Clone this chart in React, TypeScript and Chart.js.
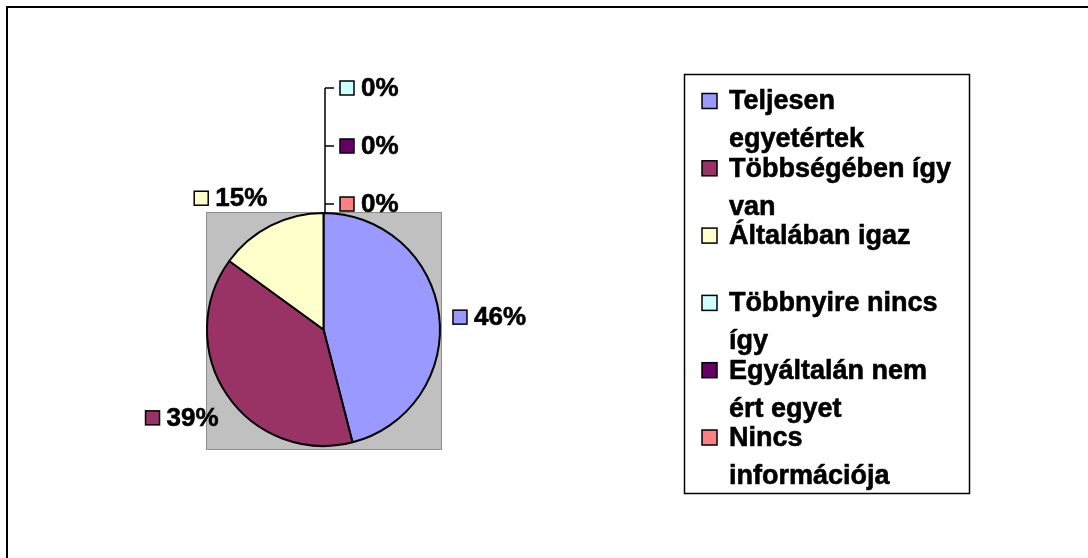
import React, { useEffect, useRef } from "react";
import { Chart, registerables } from "chart.js";

Chart.register(...registerables);

// ---- data ----
const categories: string[][] = [
  ["Teljesen", "egyetértek"],
  ["Többségében így", "van"],
  ["Általában igaz"],
  ["Többnyire nincs", "így"],
  ["Egyáltalán nem", "ért egyet"],
  ["Nincs", "információja"],
];
const percents: number[] = [46, 39, 15, 0, 0, 0];
const sliceColors: string[] = ["#9999FF", "#993366", "#FFFFCC", "#CCFFFF", "#660066", "#FF8080"];

const W = 1088;
const H = 558;
const LABEL_FONT = "bold 26px 'Liberation Sans', Arial, sans-serif";
const LEGEND_FONT = "bold 27px 'Liberation Sans', Arial, sans-serif";

function keyBox(ctx: CanvasRenderingContext2D, x: number, y: number, s: number, color: string) {
  ctx.fillStyle = color;
  ctx.fillRect(x, y, s, s);
  ctx.lineWidth = 1.5;
  ctx.strokeStyle = "#000";
  ctx.strokeRect(x, y, s, s);
}

function boldText(ctx: CanvasRenderingContext2D, t: string, x: number, y: number) {
  ctx.fillStyle = "#000";
  ctx.fillText(t, x, y);
  ctx.lineWidth = 0.6;
  ctx.strokeStyle = "#000";
  ctx.strokeText(t, x, y);
}

const decorPlugin = {
  id: "decor",
  beforeDraw(chart: any) {
    const ctx: CanvasRenderingContext2D = chart.ctx;
    ctx.save();
    ctx.fillStyle = "#fff";
    ctx.fillRect(0, 0, W, H);
    ctx.lineWidth = 2;
    ctx.strokeStyle = "#000";
    ctx.strokeRect(7, 7, W + 20, H + 20);
    ctx.restore();
  },
  beforeDatasetsDraw(chart: any) {
    const ctx: CanvasRenderingContext2D = chart.ctx;
    const a = chart.chartArea;
    ctx.save();
    ctx.fillStyle = "#C0C0C0";
    ctx.fillRect(a.left, a.top, a.right - a.left, a.bottom - a.top + 2);
    ctx.lineWidth = 1;
    ctx.strokeStyle = "#8C8C8C";
    ctx.strokeRect(a.left + 0.5, a.top + 0.5, a.right - a.left, a.bottom - a.top + 2);
    ctx.restore();
  },
  afterDatasetsDraw(chart: any) {
    const ctx: CanvasRenderingContext2D = chart.ctx;
    const meta = chart.getDatasetMeta(0);
    const data: number[] = chart.data.datasets[0].data;
    const total = data.reduce((s, v) => s + v, 0);
    ctx.save();
    ctx.font = LABEL_FONT;
    ctx.textBaseline = "middle";
    ctx.textAlign = "left";
    const keyS = 14;
    const gap = 7;
    const boxH = 30;
    const zeroIdx: number[] = [];
    data.forEach((v, i) => {
      const arc = meta.data[i] as any;
      const text = Math.round((v / total) * 100) + "%";
      if (v === 0) {
        zeroIdx.push(i);
        return;
      }
      const mid = (arc.startAngle + arc.endAngle) / 2;
      const r = arc.outerRadius + 14;
      const ax = arc.x + Math.cos(mid) * r;
      const ay = arc.y + Math.sin(mid) * r;
      const tw = ctx.measureText(text).width;
      const w = keyS + gap + tw;
      const c = Math.cos(mid);
      const s = Math.sin(mid);
      const left = c >= 0 ? ax : ax - w + 3;
      const cy = Math.abs(s) > 0.4 ? ay + Math.sign(s) * boxH / 2 : ay + 4;
      keyBox(ctx, left, cy - keyS / 2, keyS, sliceColors[i]);
      boldText(ctx, text, left + keyS + gap, cy + 1);
    });
    // stacked zero-value labels with leader line
    if (zeroIdx.length) {
      const arc = meta.data[zeroIdx[0]] as any;
      const topY = arc.y - arc.outerRadius;
      const lx = arc.x + 1.5;
      const order = zeroIdx.slice().reverse();
      const ys = order.map((_, k) => topY - 9 - k * 58);
      ctx.lineWidth = 1.5;
      ctx.strokeStyle = "#000";
      ctx.beginPath();
      ctx.moveTo(lx, topY);
      ctx.lineTo(lx, ys[ys.length - 1]);
      ys.forEach((y) => {
        ctx.moveTo(lx, y);
        ctx.lineTo(lx + 9, y);
      });
      ctx.stroke();
      order.forEach((i, k) => {
        const y = ys[k];
        const text = Math.round((data[i] / total) * 100) + "%";
        keyBox(ctx, lx + 15, y - keyS / 2, keyS, sliceColors[i]);
        boldText(ctx, text, lx + 15 + keyS + gap, y + 1);
      });
    }
    // legend
    const LX = 684, LY = 74, LW = 285, LH = 419;
    ctx.lineWidth = 1.5;
    ctx.strokeStyle = "#000";
    ctx.strokeRect(LX + 0.5, LY + 0.5, LW, LH);
    ctx.font = LEGEND_FONT;
    const labels: string[][] = chart.data.labels;
    labels.forEach((lines, i) => {
      const cy = LY + 27 + i * 67.3;
      keyBox(ctx, LX + 18, cy - 7.5, 15, sliceColors[i]);
      lines.forEach((ln, j) => {
        boldText(ctx, ln, LX + 45, cy + 1 + j * 38);
      });
    });
    ctx.restore();
  },
};

export default function App() {
  const ref = useRef<HTMLCanvasElement | null>(null);
  useEffect(() => {
    if (!ref.current) return;
    const chart = new Chart(ref.current, {
      type: "pie",
      data: {
        labels: categories as any,
        datasets: [
          {
            data: percents,
            backgroundColor: sliceColors,
            borderColor: "#000",
            borderWidth: 2,
          },
        ],
      },
      options: {
        responsive: false,
        animation: false,
        devicePixelRatio: 1,
        events: [],
        layout: { padding: { left: 206, top: 212, right: W - 441, bottom: H - 447 } },
        plugins: {
          legend: { display: false },
          tooltip: { enabled: false },
          title: { display: false },
        },
      },
      plugins: [decorPlugin],
    });
    return () => chart.destroy();
  }, []);
  return (
    <div style={{ position: "fixed", left: 0, top: 0, width: W, height: H, background: "#fff" }}>
      <canvas ref={ref} width={W} height={H} style={{ display: "block", width: W, height: H }} />
    </div>
  );
}
